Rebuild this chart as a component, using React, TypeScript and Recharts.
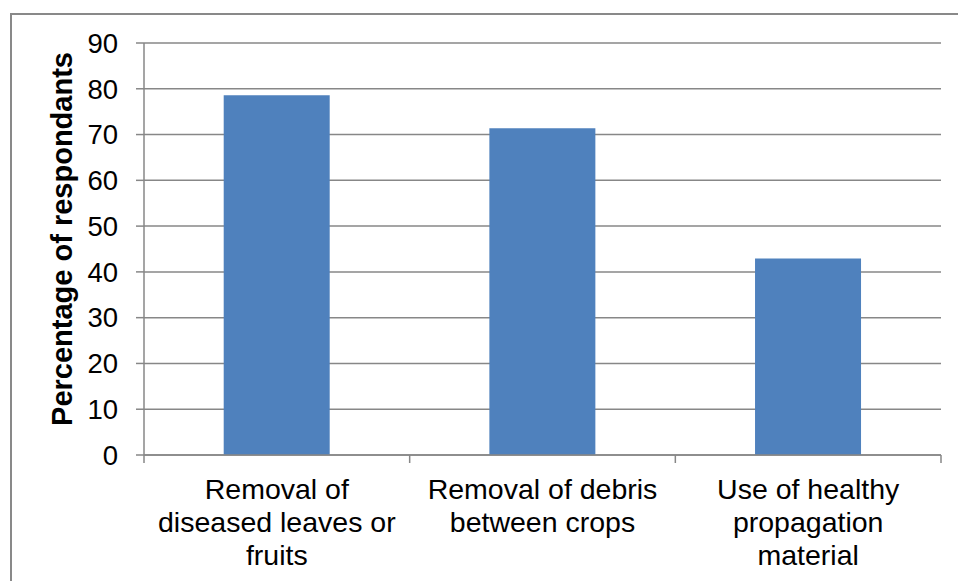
import { BarChart, Bar, XAxis, YAxis, CartesianGrid } from "recharts";

const categories = [
  "Removal of diseased leaves or fruits",
  "Removal of debris between crops",
  "Use of healthy propagation material",
];
const labelLines = [
  ["Removal of", "diseased leaves or", "fruits"],
  ["Removal of debris", "between crops"],
  ["Use of healthy", "propagation", "material"],
];
const percentages = [78.6, 71.4, 42.9];
const yTicks = [0, 10, 20, 30, 40, 50, 60, 70, 80, 90];

const data = categories.map((name, i) => ({
  name,
  value: percentages[i],
  lines: labelLines[i],
}));

const FONT = "'Liberation Sans', Arial, sans-serif";
const GRID = "#878787";

function CategoryTick(props: any) {
  const { x, y, payload, index } = props;
  const half = payload?.offset ?? 0;
  const lines = labelLines[index] ?? [payload.value];
  return (
    <g>
      <line x1={x - half} x2={x - half} y1={y - 8} y2={y} stroke={GRID} strokeWidth={1.5} />
      {index === categories.length - 1 && (
        <line x1={x + half} x2={x + half} y1={y - 8} y2={y} stroke={GRID} strokeWidth={1.5} />
      )}
      <text textAnchor="middle" fontFamily={FONT} fontSize={28.5} fill="#000">
        {lines.map((line: string, i: number) => (
          <tspan key={i} x={x} y={y + 36 + i * 33}>
            {line}
          </tspan>
        ))}
      </text>
    </g>
  );
}

function YTitle() {
  return (
    <text
      x={62}
      y={239}
      transform="rotate(-90, 62, 239)"
      textAnchor="middle"
      dominantBaseline="central"
      fontFamily={FONT}
      fontWeight="bold"
      fontSize={29}
      fill="#000"
    >
      Percentage of respondants
    </text>
  );
}

export default function App() {
  return (
    <div style={{ position: "absolute", left: 0, top: 0, width: 958, height: 581, background: "#fff", overflow: "hidden" }}>
      <div
        style={{
          position: "absolute",
          left: 10,
          top: 13,
          width: 960,
          height: 600,
          borderTop: "2px solid #898989",
          borderLeft: "2px solid #898989",
        }}
      />
      <div style={{ position: "absolute", left: 0, top: 0 }}>
        <BarChart
          width={958}
          height={581}
          data={data}
          barCategoryGap="30%"
          margin={{ top: 43, right: 17, bottom: 25, left: 0 }}
        >
          <CartesianGrid vertical={false} stroke={GRID} strokeWidth={1.5} />
          <XAxis
            dataKey="name"
            height={101}
            interval={0}
            tickLine={false}
            axisLine={{ stroke: GRID, strokeWidth: 1.5 }}
            tick={<CategoryTick />}
          />
          <YAxis
            width={144}
            domain={[0, 90]}
            ticks={yTicks}
            interval={0}
            tickSize={8}
            tickMargin={18}
            tickLine={{ stroke: GRID, strokeWidth: 1.5 }}
            axisLine={{ stroke: GRID, strokeWidth: 1.5 }}
            tick={{ fontFamily: FONT, fontSize: 27.5, fill: "#000" }}
            label={<YTitle />}
          />
          <Bar dataKey="value" fill="#4F81BD" isAnimationActive={false} />
        </BarChart>
      </div>
    </div>
  );
}
